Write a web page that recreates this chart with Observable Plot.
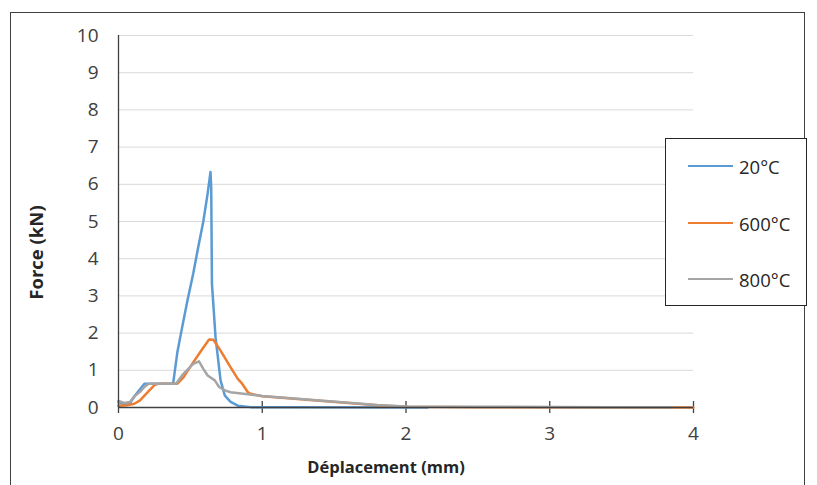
<!DOCTYPE html>
<html>
<head>
<meta charset="utf-8">
<script src="https://cdn.jsdelivr.net/npm/d3@7"></script>
<script src="https://cdn.jsdelivr.net/npm/@observablehq/plot@0.6"></script>
<style>
  html, body { margin: 0; padding: 0; background: #fff; overflow: hidden; }
  #wrap { position: relative; width: 817px; height: 485px; font-family: "Open Sans", sans-serif; }
  #frame { position: absolute; left: 10px; top: 12px; width: 795px; height: 490px; border: 1px solid #404040; box-sizing: border-box; }
  #chart { position: absolute; left: 0; top: 0; }
  #legend { position: absolute; left: 665px; top: 138px; width: 142px; height: 168px; border: 1px solid #262626; background: #fff; box-sizing: border-box; }
  .item { position: absolute; left: 22px; height: 20px; display: flex; align-items: center; font-size: 18.5px; color: #262626; }
  .item .sw { width: 45px; height: 2.5px; margin-right: 6px; }
  #chart svg g[aria-label="y-axis tick label"] text, #chart svg g[aria-label="x-axis tick label"] text { font-size: 19px; }
</style>
</head>
<body>
<div id="wrap">
  <div id="frame"></div>
  <div id="chart"></div>
  <div id="legend"></div>
</div>
<script>
// Series labels and colours
const seriesNames = ["20°C", "600°C", "800°C"];
const seriesColors = ["#5B9BD5", "#ED7D31", "#A5A5A5"];

// 20°C
const disp20  = [0, 0.04, 0.08, 0.12, 0.18, 0.38, 0.41, 0.44, 0.48, 0.52, 0.55, 0.59, 0.62, 0.64, 0.645, 0.65, 0.675, 0.71, 0.74, 0.78, 0.83, 0.92, 1.2, 2.15];
const force20 = [0.15, 0.08, 0.12, 0.35, 0.64, 0.64, 1.5, 2.1, 2.88, 3.6, 4.22, 5.0, 5.75, 6.33, 5.9, 3.33, 1.89, 0.73, 0.32, 0.15, 0.05, 0.01, 0.01, 0.0];

// 600°C
const disp600  = [0, 0.06, 0.11, 0.15, 0.2, 0.25, 0.28, 0.41, 0.45, 0.5, 0.57, 0.63, 0.66, 0.71, 0.78, 0.83, 0.86, 0.9, 0.92, 1.0, 1.2, 1.4, 1.6, 1.8, 2.0, 2.5, 4.0];
const force600 = [0.05, 0.06, 0.1, 0.19, 0.4, 0.6, 0.64, 0.64, 0.8, 1.1, 1.5, 1.83, 1.82, 1.53, 1.08, 0.77, 0.64, 0.41, 0.37, 0.3, 0.24, 0.18, 0.12, 0.06, 0.02, 0.01, 0.0];

// 800°C
const disp800  = [0, 0.04, 0.08, 0.11, 0.15, 0.18, 0.21, 0.4, 0.45, 0.52, 0.56, 0.59, 0.62, 0.67, 0.7, 0.74, 0.78, 1.0, 1.2, 1.4, 1.6, 1.8, 2.0, 2.5, 3.4, 3.85];
const force800 = [0.18, 0.12, 0.15, 0.3, 0.42, 0.55, 0.64, 0.64, 0.9, 1.17, 1.24, 1.04, 0.86, 0.73, 0.55, 0.46, 0.41, 0.31, 0.25, 0.19, 0.13, 0.07, 0.03, 0.02, 0.01, 0.01];

// Axis ticks and titles
const xTicks = [0, 1, 2, 3, 4];
const yTicks = [0, 1, 2, 3, 4, 5, 6, 7, 8, 9, 10];
const xTitle = "Déplacement (mm)";
const yTitle = "Force (kN)";

const toRows = (xs, ys, s) => xs.map((x, i) => ({x, y: ys[i], s}));
const data = [
  ...toRows(disp20, force20, seriesNames[0]),
  ...toRows(disp600, force600, seriesNames[1]),
  ...toRows(disp800, force800, seriesNames[2])
];

const chart = Plot.plot({
  width: 817,
  height: 485,
  marginLeft: 118,
  marginRight: 124,
  marginTop: 35,
  marginBottom: 78,
  style: {fontFamily: "'Open Sans', sans-serif", fontSize: "19px", color: "#404040", background: "transparent"},
  x: {domain: [0, 4], ticks: xTicks},
  y: {domain: [0, 10], ticks: yTicks},
  color: {domain: seriesNames, range: seriesColors},
  marks: [
    Plot.gridY(yTicks.slice(1), {stroke: "#D9D9D9", strokeOpacity: 1, strokeWidth: 1}),
    Plot.axisY(yTicks, {tickSize: 0, tickPadding: 20, label: null, fill: "#404040", fontSize: 19, tickFormat: d3.format("d")}),
    Plot.axisX(xTicks, {tickSize: 0, tickPadding: 19, label: null, fill: "#404040", fontSize: 19, tickFormat: d3.format("d")}),
    Plot.ruleX(xTicks, {x: d => d, y1: 0, y2: 0, insetTop: -6, insetBottom: -6, stroke: "#404040", strokeWidth: 1.3}),
    Plot.line(data, {x: "x", y: "y", z: "s", stroke: "s", strokeWidth: 2.5, strokeLinejoin: "round", curve: "linear"}),
    Plot.ruleX([0], {stroke: "#404040", strokeWidth: 1.3}),
    Plot.ruleY([0], {stroke: "#404040", strokeWidth: 1.3}),
    Plot.text([yTitle], {frameAnchor: "left", textAnchor: "middle", dx: -81, dy: 31, rotate: -90, fontWeight: "bold", fontSize: 18.5, fill: "#262626"}),
    Plot.text([xTitle], {frameAnchor: "bottom", textAnchor: "middle", dx: -20, dy: 65, fontWeight: "bold", fontSize: 16.5, fill: "#262626"})
  ]
});
document.getElementById("chart").appendChild(chart);

const legend = document.getElementById("legend");
const tops = [17, 74, 130];
seriesNames.forEach((name, i) => {
  const it = document.createElement("div");
  it.className = "item";
  it.style.top = tops[i] + "px";
  it.innerHTML = `<span class="sw" style="background:${seriesColors[i]}"></span><span>${name}</span>`;
  legend.appendChild(it);
});
</script>
</body>
</html>
